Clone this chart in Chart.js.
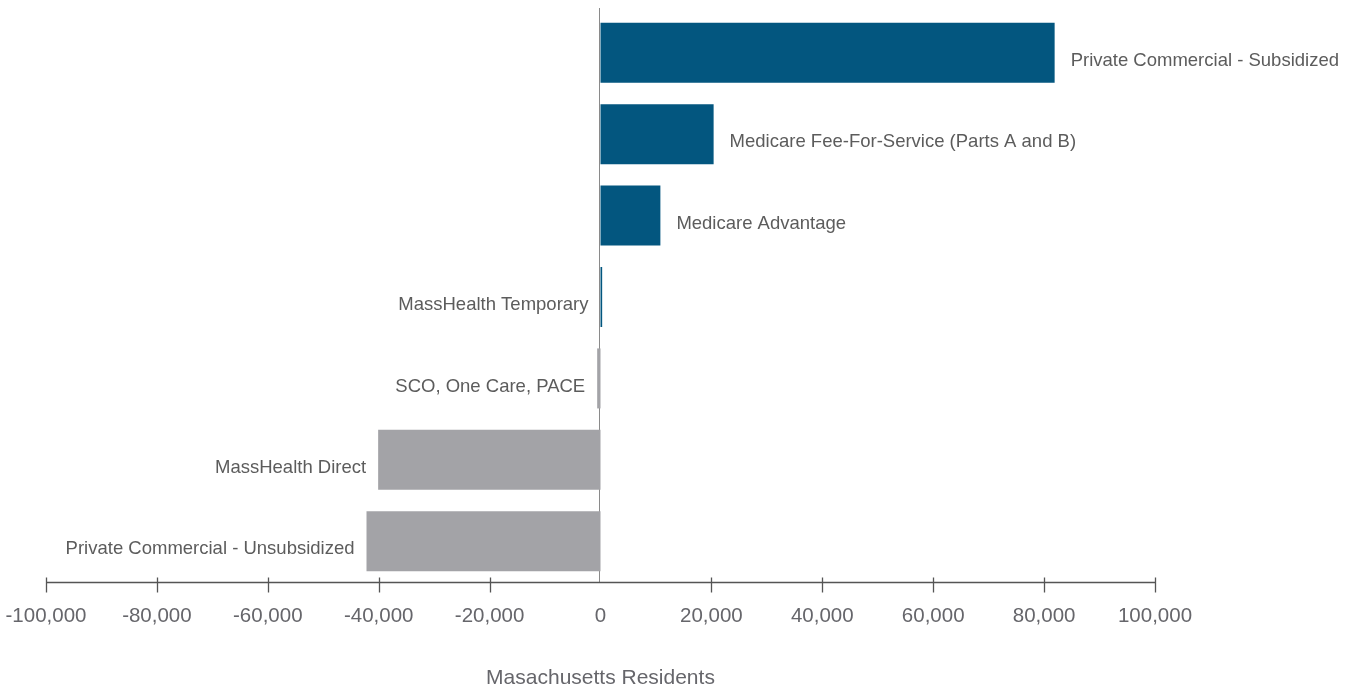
<!DOCTYPE html>
<html>
<head>
<meta charset="utf-8">
<script src="https://cdn.jsdelivr.net/npm/chart.js@4/dist/chart.umd.min.js"></script>
<style>
html,body{margin:0;padding:0;background:#fff;}
#wrap{width:1346px;height:691px;position:relative;}
</style>
</head>
<body>
<div id="wrap"><canvas id="c"></canvas></div>
<script>
const categories = [
  "Private Commercial - Subsidized",
  "Medicare Fee-For-Service (Parts A and B)",
  "Medicare Advantage",
  "MassHealth Temporary",
  "SCO, One Care, PACE",
  "MassHealth Direct",
  "Private Commercial - Unsubsidized"
];
const changeValues = [81900, 20400, 10800, 300, -600, -40100, -42200];
const tickValues = [-100000, -80000, -60000, -40000, -20000, 0, 20000, 40000, 60000, 80000, 100000];
const axisTitle = "Masachusetts Residents";

const BLUE = "#03567f";
const GRAY = "#a3a3a7";
const TEXT = "#5c5c5c";
const FONT = "'Liberation Sans', Arial, sans-serif";

const decorPlugin = {
  id: 'decor',
  beforeDatasetsDraw(chart) {
    const ctx = chart.ctx;
    const xs = chart.scales.x;
    const area = chart.chartArea;
    ctx.save();
    const x0 = Math.floor(xs.getPixelForValue(0)) - 0.5;
    ctx.strokeStyle = "#8a8a8a";
    ctx.lineWidth = 1;
    ctx.beginPath();
    ctx.moveTo(x0, area.top - 4);
    ctx.lineTo(x0, area.bottom);
    ctx.stroke();
    ctx.restore();
  },
  afterDatasetsDraw(chart) {
    const ctx = chart.ctx;
    const xs = chart.scales.x, ys = chart.scales.y;
    const area = chart.chartArea;
    const x0 = xs.getPixelForValue(0);
    ctx.save();
    // axis line
    const yb = Math.round(area.bottom) + 0.5;
    ctx.strokeStyle = "#555";
    ctx.lineWidth = 1.3;
    ctx.beginPath();
    ctx.moveTo(xs.getPixelForValue(tickValues[0]), yb);
    ctx.lineTo(xs.getPixelForValue(tickValues[tickValues.length - 1]), yb);
    ctx.stroke();
    // tick marks
    tickValues.forEach(v => {
      if (v === 0) return;
      const px = Math.round(xs.getPixelForValue(v)) + 0.5;
      ctx.beginPath();
      ctx.moveTo(px, yb - 5);
      ctx.lineTo(px, yb + 10);
      ctx.stroke();
    });
    // bar labels
    ctx.font = "18.5px " + FONT;
    ctx.fillStyle = TEXT;
    ctx.textBaseline = "middle";
    categories.forEach((name, i) => {
      const v = changeValues[i];
      const yc = ys.getPixelForValue(i) + 8;
      const xe = xs.getPixelForValue(v);
      if (v > 1000) {
        ctx.textAlign = "left";
        ctx.fillText(name, xe + 16, yc);
      } else {
        ctx.textAlign = "right";
        ctx.fillText(name, Math.min(xe, x0) - 12, yc);
      }
    });
    ctx.restore();
  }
};

new Chart(document.getElementById('c'), {
  type: 'bar',
  data: {
    labels: categories,
    datasets: [{
      data: changeValues,
      backgroundColor: changeValues.map(v => v >= 0 ? BLUE : GRAY),
      borderWidth: 0,
      barPercentage: 0.737,
      categoryPercentage: 1.0
    }]
  },
  options: {
    indexAxis: 'y',
    responsive: true,
    maintainAspectRatio: false,
    animation: false,
    layout: { padding: { left: 46, right: 191, top: 12, bottom: 0 } },
    plugins: { legend: { display: false }, tooltip: { enabled: false } },
    scales: {
      y: { display: false },
      x: {
        min: -100000,
        max: 100000,
        afterBuildTicks(scale) { scale.ticks = tickValues.map(v => ({ value: v })); },
        afterFit(scale) { scale.height = 109; scale.paddingLeft = 0; scale.paddingRight = 0; },
        grid: { display: false, drawTicks: false },
        border: { display: false },
        ticks: {
          padding: 22,
          color: "#66666b",
          font: { family: FONT, size: 20.5 },
          callback: v => v.toLocaleString('en-US'),
          maxRotation: 0
        },
        title: {
          display: true,
          text: axisTitle,
          color: "#66666b",
          font: { family: FONT, size: 21 },
          padding: { top: 42, bottom: 0 }
        }
      }
    }
  },
  plugins: [decorPlugin]
});
</script>
</body>
</html>
